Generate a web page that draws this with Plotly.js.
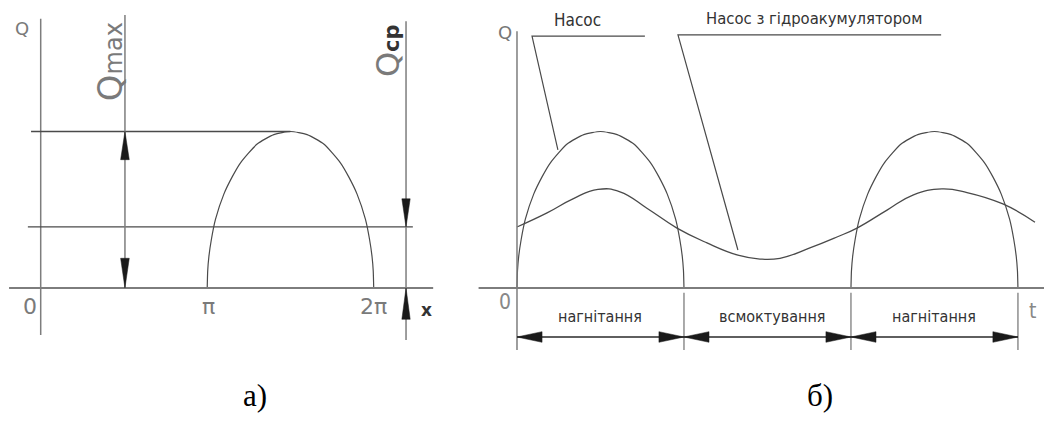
<!DOCTYPE html>
<html>
<head>
<meta charset="utf-8">
<script src="https://cdn.plot.ly/plotly-3.0.1.min.js"></script>
<style>
  html, body { margin: 0; padding: 0; background: #fff; }
  #chart { width: 1044px; height: 421px; }
</style>
</head>
<body>
<div id="chart"></div>
<script>
// One delivery stroke of the pump: phase 0..1 of a half period, flow relative to Qmax
const strokePhase = [0, 0.003, 0.01, 0.025, 0.05, 0.1, 0.15, 0.2, 0.3, 0.4, 0.5,
                     0.6, 0.7, 0.8, 0.85, 0.9, 0.95, 0.975, 0.99, 0.997, 1];
const strokeQ     = [0, 0.11, 0.2, 0.31, 0.44, 0.6, 0.71, 0.8, 0.92, 0.98, 1,
                     0.98, 0.92, 0.8, 0.71, 0.6, 0.44, 0.31, 0.2, 0.11, 0];

// a) a single stroke between π and 2π (x in units of π)
const singleStrokeStart = [1];

// б) delivery strokes of the pump (t in units of a half period)
const pumpStrokeStarts = [0, 2];

// б) smoothed flow of the pump with a hydraulic accumulator
const accT = [0, 0.18, 0.335, 0.485, 0.617, 0.778, 0.958, 1.138, 1.323, 1.455,
              1.575, 1.754, 1.916, 2.036, 2.216, 2.371, 2.545, 2.695, 2.91, 3.102];
const accQ = [0.39, 0.48, 0.57, 0.63, 0.615, 0.51, 0.383, 0.288, 0.21, 0.185,
              0.19, 0.256, 0.326, 0.383, 0.498, 0.594, 0.633, 0.61, 0.537, 0.42];

// a) flow levels
const qMaxLevel = 1.0;
const qMeanLevel = 0.39;

// a) x tick labels
const xTickPos = [0, 1, 2];
const xTickText = ['0', 'π', '2π'];

// б) phases of the working cycle
const phaseBounds = [0, 1, 2, 3];
const phaseNames = ['нагнітання', 'всмоктування', 'нагнітання'];

const curveColor = '#4a4a4a';
const axisColor = '#7d7d7d';
const leftText = '#7a7a7a';
const rightText = '#333333';
const leftFont = 'DejaVu Sans, Liberation Sans, sans-serif';
const rightFont = 'DejaVu Sans Condensed, Liberation Sans Narrow, Liberation Sans, sans-serif';

const traces = [];

singleStrokeStart.forEach(s => {
  traces.push({
    x: strokePhase.map(p => s + p), y: strokeQ,
    xaxis: 'x', yaxis: 'y', mode: 'lines',
    line: { color: curveColor, width: 1.2, shape: 'spline', smoothing: 0.6 },
    hoverinfo: 'skip', showlegend: false
  });
});

pumpStrokeStarts.forEach(s => {
  traces.push({
    x: strokePhase.map(p => s + p), y: strokeQ,
    xaxis: 'x2', yaxis: 'y', mode: 'lines',
    line: { color: curveColor, width: 1.2, shape: 'spline', smoothing: 0.6 },
    hoverinfo: 'skip', showlegend: false
  });
});

traces.push({
  x: accT, y: accQ, xaxis: 'x2', yaxis: 'y', mode: 'lines',
  line: { color: curveColor, width: 1.3, shape: 'spline', smoothing: 1.3 },
  hoverinfo: 'skip', showlegend: false
});

function seg(xref, x0, y0, x1, y1, color, width) {
  return { type: 'line', xref: xref, yref: 'y', x0: x0, y0: y0, x1: x1, y1: y1,
           line: { color: color, width: width } };
}

// filled arrowhead pointing in direction dir, tip at (x, y); dir is 'up' | 'down' | 'left' | 'right'
function arrow(xref, x, y, dir, len, half) {
  let p;
  if (dir === 'up')    p = `M${x},${y} L${x - half},${y - len} L${x + half},${y - len} Z`;
  if (dir === 'down')  p = `M${x},${y} L${x - half},${y + len} L${x + half},${y + len} Z`;
  if (dir === 'left')  p = `M${x},${y} L${x + len},${y - half} L${x + len},${y + half} Z`;
  if (dir === 'right') p = `M${x},${y} L${x - len},${y - half} L${x - len},${y + half} Z`;
  return { type: 'path', xref: xref, yref: 'y', path: p,
           fillcolor: '#1a1a1a', line: { color: '#1a1a1a', width: 0.5 } };
}

const shapes = [];

// ---- a) ----
const qMaxX = 0.506, qMeanX = 2.194;
shapes.push(seg('x', 0, -0.30, 0, 1.72, axisColor, 1.5));               // Q axis
shapes.push(seg('x', -0.19, 0, 2.357, 0, axisColor, 2));                 // x axis
shapes.push(seg('x', -0.058, qMaxLevel, 1.5, qMaxLevel, curveColor, 1.3));
shapes.push(seg('x', -0.077, qMeanLevel, 2.235, qMeanLevel, curveColor, 1.3));
shapes.push(seg('x', qMaxX, 0, qMaxX, 1.745, axisColor, 1.5));
shapes.push(seg('x', qMeanX, -0.333, qMeanX, 1.705, axisColor, 1.5));
shapes.push(arrow('x', qMaxX, qMaxLevel, 'up', 0.18, 0.026));
shapes.push(arrow('x', qMaxX, 0, 'down', 0.19, 0.026));
shapes.push(arrow('x', qMeanX, qMeanLevel, 'down', 0.18, 0.025));
shapes.push(arrow('x', qMeanX, 0, 'up', 0.2, 0.025));

// ---- б) ----
shapes.push(seg('x2', -0.23, 0, 3.156, 0, axisColor, 2));               // t axis
shapes.push(seg('x2', 0, -0.396, 0, 1.64, axisColor, 1.5));              // Q axis
phaseBounds.slice(1).forEach(b => shapes.push(seg('x2', b, -0.03, b, -0.396, axisColor, 1.3)));
const dimY = -0.313;
shapes.push(seg('x2', phaseBounds[0], dimY, phaseBounds[phaseBounds.length - 1], dimY, '#2a2a2a', 1.5));
for (let i = 0; i < phaseBounds.length - 1; i++) {
  shapes.push(arrow('x2', phaseBounds[i], dimY, 'left', 0.15, 0.034));
  shapes.push(arrow('x2', phaseBounds[i + 1], dimY, 'right', 0.15, 0.034));
}
// leader lines to the curves
traces.push({
  x: [0.766, 0.09, 0.245], y: [1.61, 1.61, 0.882], xaxis: 'x2', yaxis: 'y',
  mode: 'lines', line: { color: curveColor, width: 1.2 }, hoverinfo: 'skip', showlegend: false
});
traces.push({
  x: [2.54, 0.964, 1.323], y: [1.617, 1.617, 0.243], xaxis: 'x2', yaxis: 'y',
  mode: 'lines', line: { color: curveColor, width: 1.2 }, hoverinfo: 'skip', showlegend: false
});

function label(xref, x, y, text, size, color, family, extra) {
  return Object.assign({
    xref: xref, yref: 'y', x: x, y: y, text: text, showarrow: false,
    xanchor: 'center', yanchor: 'middle',
    font: { size: size, color: color, family: family }
  }, extra || {});
}

const annotations = [];
// a) labels
annotations.push(label('x', -0.112, 1.66, 'Q', 18, leftText, leftFont));
xTickPos.forEach((p, i) => {
  const dx = i === 0 ? -0.064 : (i === 1 ? 0.006 : -0.004);
  annotations.push(label('x', p + dx, -0.12, xTickText[i], 22, leftText, leftFont));
});
annotations.push(label('x', 2.314, -0.14, '<b>x</b>', 17, '#333', leftFont));
annotations.push(label('x', 0.417, 1.444,
  'Q<span style="font-size:24px">max</span>', 34, leftText, leftFont, { textangle: -90 }));
annotations.push(label('x', 2.086, 1.514,
  'Q<span style="font-size:21px;color:#333"><b>ср</b></span>', 32, leftText, leftFont, { textangle: -90 }));

// б) labels
annotations.push(label('x2', -0.072, 1.63, 'Q', 18, '#777', leftFont));
annotations.push(label('x2', -0.072, -0.09, '0', 21, '#888', rightFont));
annotations.push(label('x2', 3.09, -0.147, 't', 21, '#888', rightFont));
annotations.push(label('x2', 0.36, 1.71, 'Насос', 17, rightText, rightFont));
annotations.push(label('x2', 1.78, 1.725, 'Насос з гідроакумулятором', 16.5, rightText, rightFont));
phaseNames.forEach((n, i) => {
  const mid = (phaseBounds[i] + phaseBounds[i + 1]) / 2;
  annotations.push(label('x2', mid + (i === 1 ? 0.03 : 0), -0.185, n, 16, rightText, rightFont));
});

// captions
annotations.push(label('x', 1.287, -0.69, 'а)', 31, '#000', 'Liberation Serif, Times New Roman, serif'));
annotations.push(label('x2', 1.814, -0.69, 'б)', 31, '#000', 'Liberation Serif, Times New Roman, serif'));

const hidden = { visible: false, fixedrange: true };
const layout = {
  width: 1044, height: 421, autosize: false,
  margin: { l: 0, r: 0, t: 0, b: 0, pad: 0 },
  paper_bgcolor: '#ffffff', plot_bgcolor: '#ffffff',
  showlegend: false,
  xaxis: Object.assign({ domain: [0, 0.45], range: [-0.2444, 2.577], anchor: 'y' }, hidden),
  xaxis2: Object.assign({ domain: [0.45, 1], range: [-0.2826, 3.156], anchor: 'y' }, hidden),
  yaxis: Object.assign({ domain: [0, 1], range: [-0.8498, 1.8403], anchor: 'x' }, hidden),
  shapes: shapes,
  annotations: annotations
};

Plotly.newPlot('chart', traces, layout, { staticPlot: true, displayModeBar: false });
</script>
</body>
</html>
